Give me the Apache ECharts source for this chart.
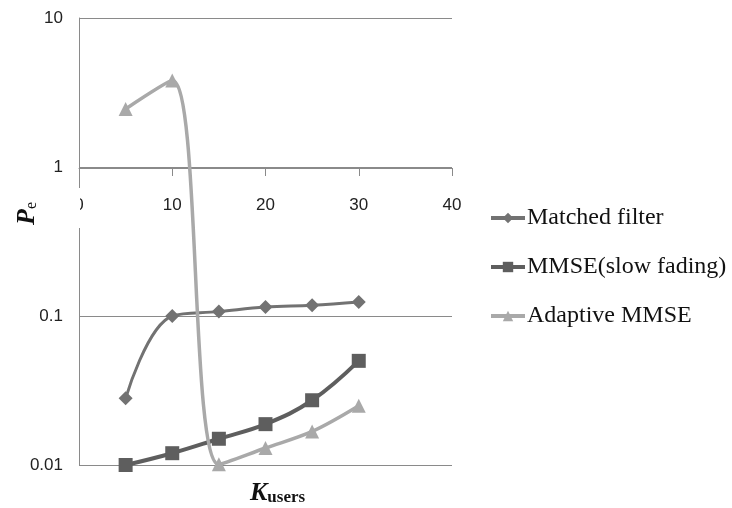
<!DOCTYPE html>
<html>
<head>
<meta charset="utf-8">
<script src="https://cdn.jsdelivr.net/npm/echarts@6/dist/echarts.min.js"></script>
<style>
html, body { margin: 0; padding: 0; background: #fff; }
#main { width: 732px; height: 508px; }
</style>
</head>
<body>
<div id="main"></div>
<script>
// values
var kUsers = [5, 10, 15, 20, 25, 30];
var matchedFilter = [0.028, 0.1, 0.107, 0.115, 0.118, 0.124];
var mmseSlow = [0.01, 0.012, 0.015, 0.0188, 0.0272, 0.05];
var adaptiveMmse = [2.45, 3.8, 0.0101, 0.013, 0.0168, 0.025];
var seriesNames = ['Matched filter', 'MMSE(slow fading)', 'Adaptive MMSE'];

function pairs(ys) {
    return kUsers.map(function (x, i) { return [x, ys[i]]; });
}

var chartDom = document.getElementById('main');
var myChart = echarts.init(chartDom);
var option;

option = {
    backgroundColor: '#fff',
    animation: false,
    grid: { left: 79, right: 280, top: 18, bottom: 43 },
    legend: {
        orient: 'vertical',
        left: 484,
        top: 201,
        itemWidth: 34,
        itemHeight: 13,
        itemGap: 25,
        data: seriesNames,
        lineStyle: { width: 4 },
        textStyle: { fontFamily: 'Liberation Serif', fontSize: 24, color: '#111', padding: [0, 0, 0, -3] }
    },
    xAxis: {
        type: 'value',
        min: 0,
        max: 40,
        interval: 10,
        position: 'bottom',
        offset: -297,
        axisLine: { show: true, lineStyle: { color: '#8a8a8a', width: 1 } },
        axisTick: { show: true, length: 8, lineStyle: { color: '#8a8a8a' } },
        axisLabel: { margin: 29, fontFamily: 'Liberation Sans', fontSize: 17, color: '#222' },
        splitLine: { show: false }
    },
    yAxis: {
        type: 'log',
        logBase: 10,
        min: 0.01,
        max: 10,
        axisLine: { show: true, lineStyle: { color: '#8a8a8a', width: 1 } },
        axisTick: { show: false },
        axisLabel: { margin: 16, fontFamily: 'Liberation Sans', fontSize: 17, color: '#222' },
        splitLine: { show: true, lineStyle: { color: '#8a8a8a', width: 1 } }
    },
    graphic: [
        // white box behind the y title, hiding part of the axis
        { type: 'rect', left: 8, top: 188, shape: { width: 72, height: 40 }, style: { fill: '#fff' }, z: 100 },
        {
            type: 'text', x: 14, y: 225, rotation: Math.PI / 2, z: 101,
            style: {
                text: '{p|P}{e|e}',
                rich: {
                    p: { fontFamily: 'Liberation Serif', fontSize: 26, fontWeight: 'bold', fontStyle: 'italic', fill: '#111', verticalAlign: 'bottom' },
                    e: { fontFamily: 'Liberation Serif', fontSize: 16, fill: '#111', verticalAlign: 'bottom', padding: [10, 0, 0, 0] }
                }
            }
        },
        {
            type: 'text', left: 250, top: 480, z: 101,
            style: {
                text: '{k|K}{u|users}',
                rich: {
                    k: { fontFamily: 'Liberation Serif', fontSize: 26, fontWeight: 'bold', fontStyle: 'italic', fill: '#111', verticalAlign: 'bottom' },
                    u: { fontFamily: 'Liberation Serif', fontSize: 17, fontWeight: 'bold', fill: '#111', verticalAlign: 'bottom', padding: [10, 0, 0, 0] }
                }
            }
        }
    ],
    series: [
        {
            name: seriesNames[0],
            type: 'line',
            smooth: 0.4,
            symbol: 'diamond',
            symbolSize: 14,
            data: pairs(matchedFilter),
            itemStyle: { color: '#727272' },
            lineStyle: { color: '#727272', width: 3 }
        },
        {
            name: seriesNames[1],
            type: 'line',
            smooth: 0.4,
            symbol: 'rect',
            symbolSize: 14,
            data: pairs(mmseSlow),
            itemStyle: { color: '#5e5e5e' },
            lineStyle: { color: '#5e5e5e', width: 4 }
        },
        {
            name: seriesNames[2],
            type: 'line',
            smooth: 0.35,
            symbol: 'triangle',
            symbolSize: 14,
            data: pairs(adaptiveMmse),
            itemStyle: { color: '#a9a9a9' },
            lineStyle: { color: '#a9a9a9', width: 3.5 }
        }
    ]
};

option && myChart.setOption(option);
</script>
</body>
</html>
